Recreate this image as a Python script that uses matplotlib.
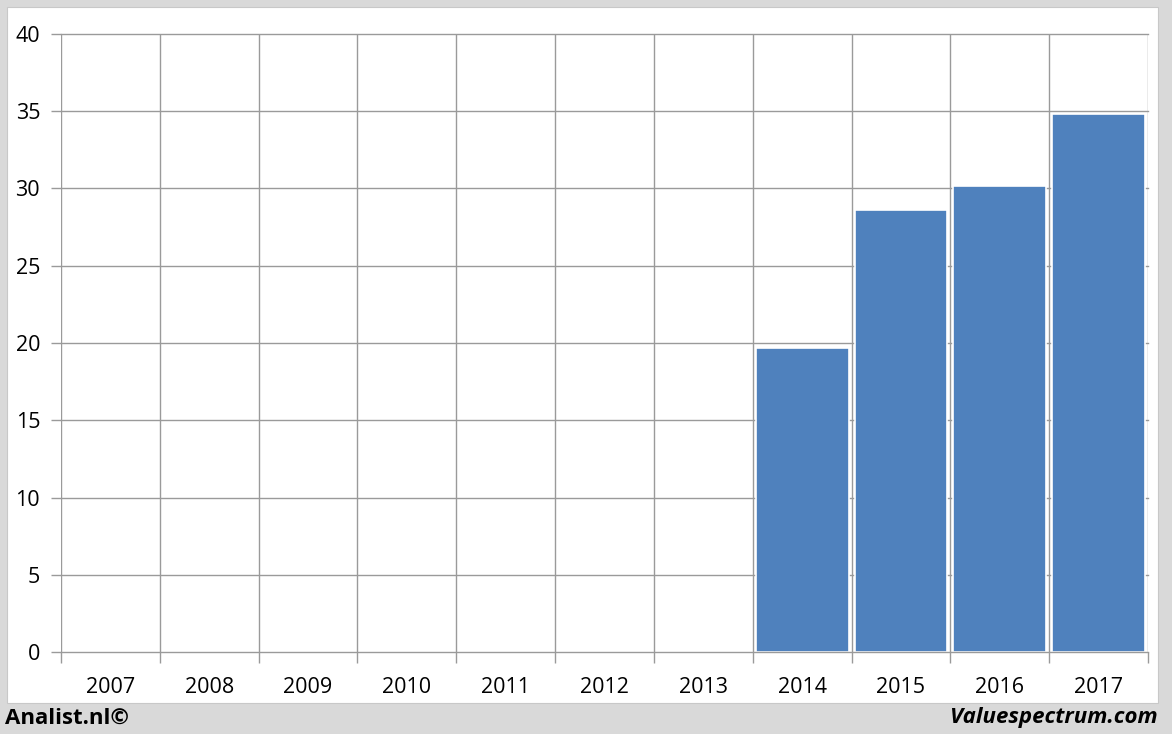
import matplotlib.pyplot as plt
import numpy as np
from matplotlib.patches import Rectangle

plt.rcParams["font.family"] = ["Open Sans", "DejaVu Sans"]

YEARS = ["2007", "2008", "2009", "2010", "2011", "2012", "2013",
         "2014", "2015", "2016", "2017"]
VALUES = [0, 0, 0, 0, 0, 0, 0, 19.7, 28.6, 30.15, 34.8]

W, H = 1172, 734
fig = plt.figure(figsize=(W / 100, H / 100), dpi=100)
fig.patch.set_facecolor("#d9d9d9")

# white chart panel (behind the axes)
fig.patches.append(Rectangle((7 / W, 1 - 703 / H), (1158 - 7) / W, (703 - 7) / H,
                             transform=fig.transFigure, facecolor="white",
                             edgecolor="#c8c8c8", lw=0.8, zorder=-10))

ax = fig.add_axes([61 / W, 1 - 652 / H, (1148 - 61) / W, (652 - 34) / H])
ax.set_facecolor("none")
ax.set_zorder(1)

x = np.arange(len(YEARS))
vals = np.array(VALUES)
mask = vals > 0
ax.bar(x[mask], vals[mask], width=0.94, color="#4f81bd",
       edgecolor="white", lw=1.2, zorder=2)

ax.set_xlim(-0.5, len(YEARS) - 0.5)
ax.set_ylim(0, 40)
ax.set_yticks(np.arange(0, 41, 5))

grid_c = "#9a9a9a"
for yv in np.arange(0, 41, 5):
    ax.axhline(yv, color=grid_c, lw=1.0, zorder=1 if yv > 0 else 3,
               clip_on=False)
for xv in np.arange(-0.5, len(YEARS), 1.0):
    ax.axvline(xv, color=grid_c, lw=1.0, zorder=1)

ax.set_xticks(np.arange(-0.5, len(YEARS), 1.0), minor=False)
ax.set_xticklabels([])
ax.set_xticks(x, minor=True)
ax.set_xticklabels(YEARS, minor=True, fontsize=15.5)
ax.tick_params(axis="x", which="major", length=8, color=grid_c, width=1.0)
ax.tick_params(axis="x", which="minor", length=0, pad=18)
ax.tick_params(axis="y", length=7, color=grid_c, width=1.0, labelsize=15.5, pad=8)

for s in ax.spines.values():
    s.set_visible(False)

fig.text(5 / W, 1 - 718 / H, "Analist.nl©", fontsize=16, fontweight="bold",
         ha="left", va="center")
fig.text(1158 / W, 1 - 718 / H, "Valuespectrum.com", fontsize=16,
         fontweight="bold", style="italic", ha="right", va="center")

fig.savefig("out.png", dpi=100, facecolor=fig.get_facecolor())
